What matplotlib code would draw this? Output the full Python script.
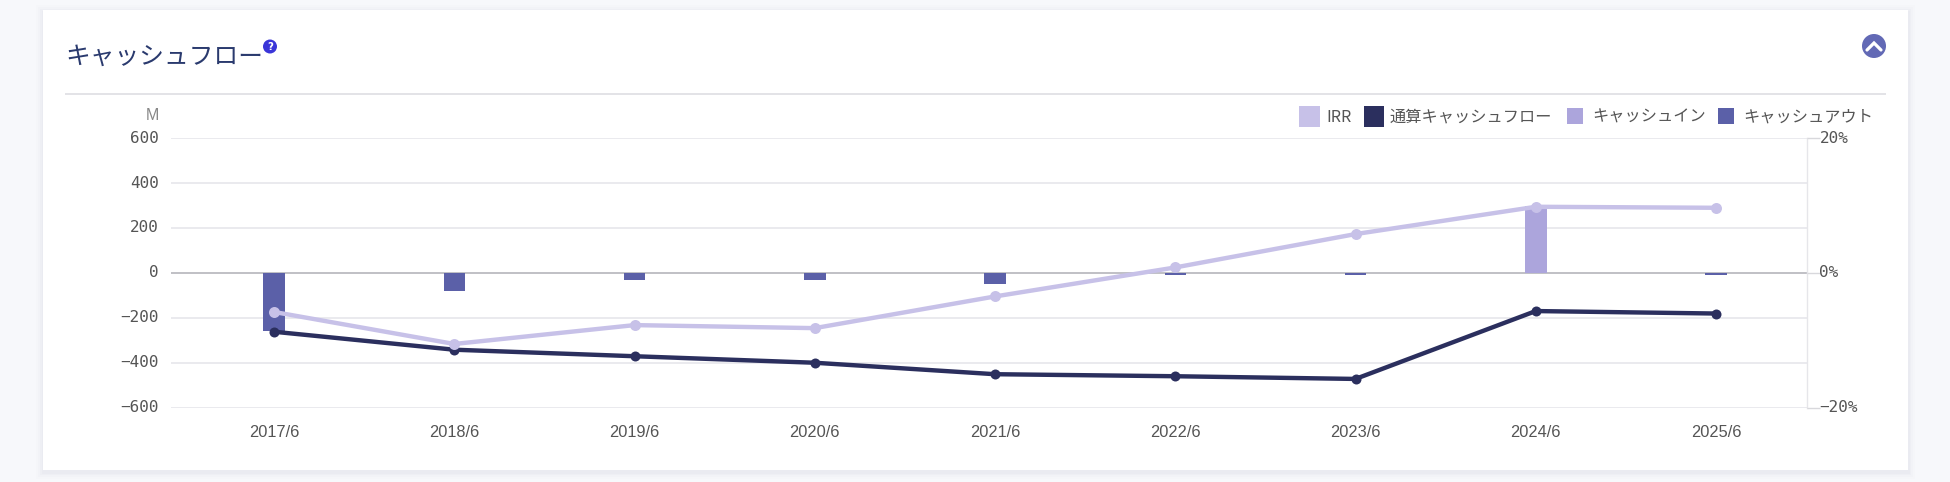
import matplotlib
matplotlib.use("Agg")
import matplotlib.pyplot as plt
from matplotlib.patches import Rectangle, Circle
from matplotlib.transforms import ScaledTranslation

W, H = 1950, 482
JP = ['Noto Sans CJK JP', 'DejaVu Sans']
MONO = 'DejaVu Sans Mono'
SANS = 'Liberation Sans'

categories = ['2017/6', '2018/6', '2019/6', '2020/6', '2021/6', '2022/6', '2023/6', '2024/6', '2025/6']
cash_in = [0, 0, 0, 0, 0, 0, 0, 296, 0]
cash_out = [-258, -79, -30, -30, -49, -9, -9, 0, -9]
cumulative = [-262, -342, -371, -400, -451, -460, -472, -170, -181]
irr = [-5.8, -10.55, -7.75, -8.2, -3.5, 0.8, 5.75, 9.8, 9.65]
left_ticks = [600, 400, 200, 0, -200, -400, -600]
right_ticks = [20, 0, -20]
legend_labels = ['IRR', '通算キャッシュフロー', 'キャッシュイン', 'キャッシュアウト']
title = 'キャッシュフロー'

C_IN, C_OUT, C_CUM, C_IRR = '#aca5dc', '#5b60a8', '#2b2f5e', '#c7c1e8'
TXT = '#555555'
px = 0.72  # points per pixel at dpi 100

fig = plt.figure(figsize=(W / 100, H / 100), dpi=100, facecolor='#f7f8fb')

# page furniture in pixel coordinates
bg = fig.add_axes([0, 0, 1, 1], zorder=0)
bg.set_xlim(0, W)
bg.set_ylim(H, 0)
bg.axis('off')
for g, a in [(7, .012), (5, .014), (3, .018), (1.5, .022)]:
    bg.add_patch(Rectangle((43 - g, 10 - g + 2), 1865 + 2 * g, 460 + 2 * g, fc='#50507a', alpha=a, ec='none'))
bg.add_patch(Rectangle((43, 10), 1865, 460, fc='white', ec='none'))
bg.plot([65, 1886], [94, 94], color='#e3e3e7', lw=2 * px, solid_capstyle='butt')
bg.text(65, 57, title, family=JP, fontsize=24.7 * px, color='#2a3a6e', va='center', ha='left')
bg.add_patch(Circle((270, 46.5), 7, fc='#3a35d8', ec='none'))
bg.text(270, 46.5, '?', family='DejaVu Sans', fontweight='bold', fontsize=10 * px, color='white', ha='center', va='center')
bg.add_patch(Circle((1874, 46), 12, fc='#6269b5', ec='none'))
bg.plot([1867, 1874, 1881], [50, 43, 50], color='white', lw=3.2 * px, solid_capstyle='round', solid_joinstyle='miter')
bg.text(159, 115.5, 'M', family=SANS, fontsize=16 * px, color='#888888', ha='right', va='center')

swatches = [(1299, 106, 21, 21, C_IRR, 1326), (1364, 106, 20, 21, C_CUM, 1390),
            (1566.5, 108, 16.5, 16, C_IN, 1592), (1718, 108, 16, 16, C_OUT, 1743)]
for (x, y, w, h, c, tx), lab in zip(swatches, legend_labels):
    bg.add_patch(Rectangle((x, y), w, h, fc=c, ec='none'))
    bg.text(tx, 117, lab, family=JP, fontsize=16.2 * px, color=TXT, ha='left', va='center')

# chart axes
L, R, T, B = 171, 1806.5, 138, 407.7
ax = fig.add_axes([L / W, 1 - B / H, (R - L) / W, (B - T) / H], zorder=2)
ax.patch.set_visible(False)
pos = list(range(len(categories)))
step = 180.25
ax.set_xlim(-103 / step, len(categories) - 1 + 90.5 / step)
ax.set_ylim(-600, 600)
ax.grid(axis='y', color='#e6e6ea', lw=1.6 * px)
ax.set_axisbelow(True)
ax.axhline(0, color='#bdbdc2', lw=1.8 * px, zorder=1)
bw = 21.5 / step
ax.bar(pos, cash_in, width=bw, color=C_IN, zorder=2)
ax.bar(pos, cash_out, width=bw, color=C_OUT, zorder=2)
ax.plot(pos, cumulative, color=C_CUM, lw=4.4 * px, marker='o', ms=10 * px, mew=0, zorder=4)
ax.set_xticks(pos, categories, family=SANS, fontsize=16.4 * px, color=TXT)
ax.set_yticks(left_ticks, [str(v).replace('-', '\u2212') for v in left_ticks], family=MONO, fontsize=16 * px, color=TXT)
ax.tick_params(axis='y', length=0, pad=12 * px)
ax.tick_params(axis='x', length=0, pad=17 * px)
for s in ['top', 'left', 'bottom']:
    ax.spines[s].set_visible(False)
ax.spines['right'].set_color('#e6e6ea')
ax.spines['right'].set_linewidth(1.4 * px)

ax2 = ax.twinx()
ax2.set_zorder(3)
ax2.patch.set_visible(False)
ax2.set_ylim(-20, 20)
ax2.plot(pos, irr, color=C_IRR, lw=4.4 * px, marker='o', ms=11 * px, mew=0, zorder=3)
ax2.set_yticks(right_ticks, [f'{v}%'.replace('-', '\u2212') for v in right_ticks], family=MONO, fontsize=16 * px, color=TXT)
ax2.tick_params(axis='y', length=13 * px, width=1.4 * px, color='#d8d8dc', pad=0)
for s in ax2.spines.values():
    s.set_visible(False)

shift = ScaledTranslation(0, 1.4 / 100, fig.dpi_scale_trans)
for lab in ax.get_yticklabels() + ax2.get_yticklabels():
    lab.set_transform(lab.get_transform() + shift)

fig.savefig('out.png', dpi=100, facecolor=fig.get_facecolor())
